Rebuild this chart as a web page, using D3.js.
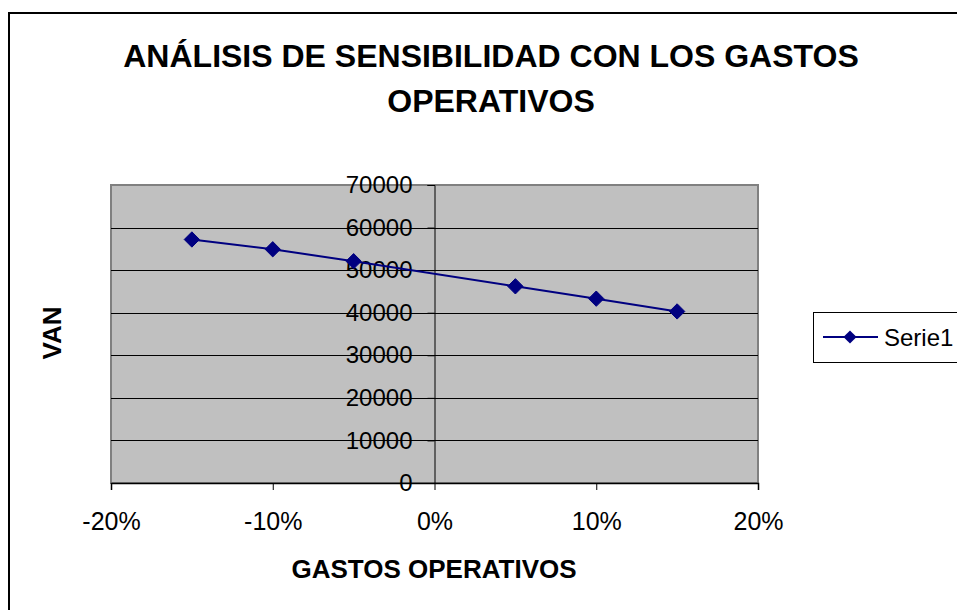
<!DOCTYPE html>
<html>
<head>
<meta charset="utf-8">
<script src="https://cdn.jsdelivr.net/npm/d3@7"></script>
<style>
  body { margin: 0; background: #fff; }
  svg { display: block; font-family: "Liberation Sans", Arial, sans-serif; }
</style>
</head>
<body>
<div id="container"></div>
<script>
// data
var cambios = [-0.15, -0.10, -0.05, 0.05, 0.10, 0.15];
var van = [57200, 54900, 52100, 46200, 43300, 40300];
var xTicks = [-0.2, -0.1, 0, 0.1, 0.2];
var yTicks = [0, 10000, 20000, 30000, 40000, 50000, 60000, 70000];
var serieName = "Serie1";

var width = 957, height = 610;
var plot = {left: 111, right: 758, top: 185, bottom: 483};

var svg = d3.select("#container").append("svg")
    .attr("width", width)
    .attr("height", height);

// chart frame
svg.append("rect")
    .attr("x", 9).attr("y", 13)
    .attr("width", 960).attr("height", 610)
    .style("fill", "white")
    .style("stroke", "black")
    .style("stroke-width", 2);

var x = d3.scaleLinear().domain([-0.2, 0.2]).range([plot.left, plot.right]);
var y = d3.scaleLinear().domain([0, 70000]).range([plot.bottom, plot.top]);

// plot area
svg.append("rect")
    .attr("x", plot.left).attr("y", plot.top)
    .attr("width", plot.right - plot.left)
    .attr("height", plot.bottom - plot.top)
    .style("fill", "#c0c0c0")
    .style("stroke", "#808080")
    .style("stroke-width", 2);

// gridlines
svg.append("g")
  .selectAll("line")
    .data(yTicks.filter(function(d) { return d > 0 && d < 70000; }))
  .enter().append("line")
    .attr("x1", plot.left).attr("x2", plot.right)
    .attr("y1", function(d) { return Math.round(y(d)) + 0.5; })
    .attr("y2", function(d) { return Math.round(y(d)) + 0.5; })
    .style("stroke", "black")
    .style("stroke-width", 1);

// x axis (at y = 0)
var pct = d3.format(".0%");
var xAxis = d3.axisBottom(x)
    .tickValues(xTicks)
    .tickSize(7)
    .tickPadding(22)
    .tickFormat(function(d) { return pct(d).replace("\u2212", "-"); });

var gx = svg.append("g")
    .attr("transform", "translate(0," + y(0) + ")")
    .call(xAxis);
gx.select(".domain").style("stroke", "black").style("stroke-width", 1.5);
gx.selectAll(".tick line").style("stroke", "black");
gx.selectAll(".tick text")
    .style("font-size", "25px")
    .style("fill", "black")
    .attr("font-family", null);

// y axis (at x = 0)
var yAxis = d3.axisLeft(y)
    .tickValues(yTicks)
    .tickSize(7)
    .tickPadding(15)
    .tickFormat(d3.format("d"));

var gy = svg.append("g")
    .attr("transform", "translate(" + x(0) + ",0)")
    .call(yAxis);
gy.select(".domain").style("stroke", "black").style("stroke-width", 1);
gy.selectAll(".tick line").style("stroke", "black");
gy.selectAll(".tick text")
    .style("font-size", "24px")
    .style("fill", "black")
    .attr("font-family", null);

// series line
var points = cambios.map(function(c, i) { return {x: c, y: van[i]}; });

var line = d3.line()
    .x(function(d) { return x(d.x); })
    .y(function(d) { return y(d.y); });

svg.append("path")
    .datum(points)
    .attr("d", line)
    .style("fill", "none")
    .style("stroke", "#000080")
    .style("stroke-width", 2);

var diamond = d3.symbol().type(d3.symbolDiamond2).size(150);

svg.append("g")
  .selectAll("path")
    .data(points)
  .enter().append("path")
    .attr("d", diamond)
    .attr("transform", function(d) { return "translate(" + x(d.x) + "," + y(d.y) + ")"; })
    .style("fill", "#000080")
    .style("stroke", "#000080");

// titles
var title = svg.append("text")
    .attr("text-anchor", "middle")
    .style("font-size", "32px")
    .style("font-weight", "bold");
title.append("tspan").attr("x", 491).attr("y", 67).text("ANÁLISIS DE SENSIBILIDAD CON LOS GASTOS");
title.append("tspan").attr("x", 491).attr("y", 112).text("OPERATIVOS");

svg.append("text")
    .attr("x", 434).attr("y", 578)
    .attr("text-anchor", "middle")
    .style("font-size", "26px")
    .style("font-weight", "bold")
    .text("GASTOS OPERATIVOS");

svg.append("text")
    .attr("transform", "translate(61,333) rotate(-90)")
    .attr("text-anchor", "middle")
    .style("font-size", "26px")
    .style("font-weight", "bold")
    .text("VAN");

// legend
var legend = svg.append("g");
legend.append("rect")
    .attr("x", 813.5).attr("y", 312.5)
    .attr("width", 200).attr("height", 50)
    .style("fill", "white")
    .style("stroke", "black")
    .style("stroke-width", 1);
legend.append("line")
    .attr("x1", 823).attr("x2", 878)
    .attr("y1", 337).attr("y2", 337)
    .style("stroke", "#000080")
    .style("stroke-width", 2);
legend.append("path")
    .attr("d", d3.symbol().type(d3.symbolDiamond2).size(110))
    .attr("transform", "translate(850,337)")
    .style("fill", "#000080");
legend.append("text")
    .attr("x", 884).attr("y", 346)
    .style("font-size", "24px")
    .text(serieName);
</script>
</body>
</html>
